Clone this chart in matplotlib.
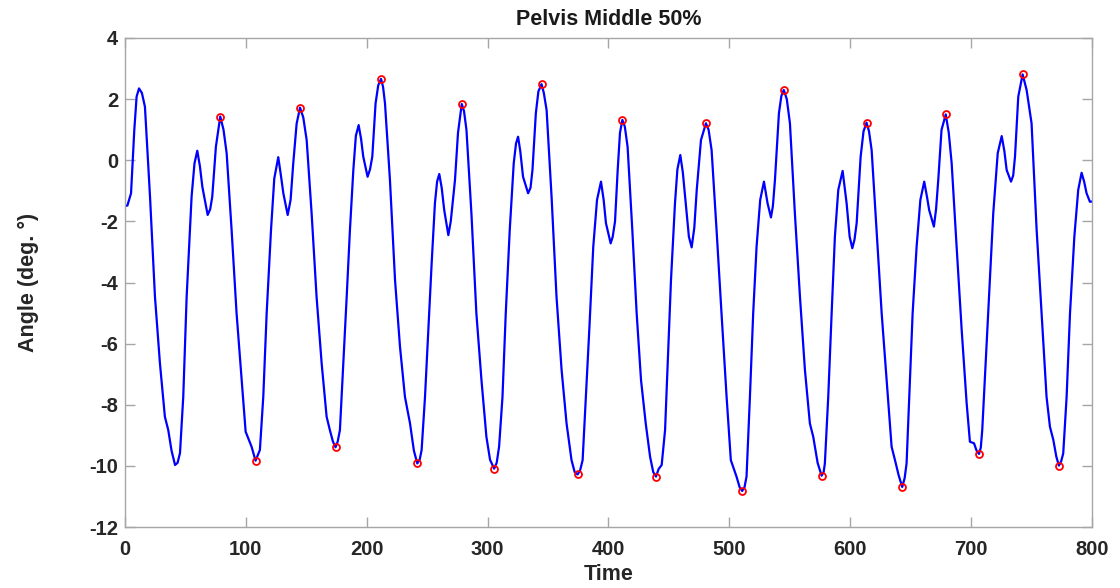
import matplotlib
matplotlib.use("Agg")
import matplotlib.pyplot as plt

plt.rcParams['font.family'] = ['Liberation Sans', 'DejaVu Sans']
plt.rcParams['axes.unicode_minus'] = False

# signal (time, angle)
time = [0, 2, 5, 7.7, 9.6, 11.6, 14, 16.5, 20.7, 24.8, 28.9, 33, 35.8, 38.5, 41.4, 43.5, 45.5, 48.2, 51, 55.1,
        57.5, 59.8, 62, 64, 68.4, 70.5, 72.2, 75.2, 78.8, 81.5, 84.1, 88.2, 92.3, 96.5, 99.8, 104.7, 108, 111.6,
        114.4, 117.2, 120.8, 123.5, 126.8, 129, 131, 134.6,
        137, 139.2, 142, 144.8, 147.5, 150.3, 154.4, 158.5, 162.7, 166.8, 169.5, 172, 174.2, 176, 177.8, 180.6,
        183.4, 186.1, 188.9, 191, 193.3, 195.3, 197.1, 200.7, 202.7, 204.6, 207.3, 209.5, 211.8, 213.5, 215.1,
        219.2, 223.4, 227.5, 231.6, 235.8, 239, 241.8, 243.8, 245.4, 248.2, 250.9, 253.7, 256.4, 258.2, 260,
        262, 264.1, 267.5, 269.5, 271.6,
        273, 275.5, 278.6, 280.5, 282.5, 286.6, 290.7, 294.9, 299, 302, 305.4, 307.5, 309.5, 312.3, 315, 318.3,
        321.6, 323.5, 325.2, 327, 329.3, 333.5, 335.5, 337.1, 339.9, 342, 344.6, 346.5, 348.8, 352.9, 357, 361.2,
        365.3, 369.4, 372, 374.4, 376.5, 378.6, 381.3, 384.1, 387.4, 390.5, 393.8, 396, 397.9, 401.8, 403.5,
        405.4, 407.6, 409.5, 411.5, 413.5, 415.8, 419.7, 423.3, 426.9, 430.8, 434.4, 437, 439.3, 441.5, 444,
        446.8, 449, 451.7, 455, 457, 459.4, 461.5, 463.9, 466.5, 468.8, 471, 473, 476.5, 480.6, 482.8, 485.3,
        489.4, 493.5, 497.7, 501.2, 505.9, 508.5, 510.6, 512.5, 514.2, 517, 519.7, 522.5, 525.5, 528.6, 531.6,
        534.4, 536, 537.7, 541, 543, 545,
        547.5, 550.1, 554.2, 558.4, 562.5, 566.6, 569.4, 573, 576.3, 578, 579, 581.8, 584.6, 587.3, 590.1, 593.7,
        597, 599.5, 601.7, 603.5, 605.3, 608.6, 611, 613.5, 615.5, 617.7, 621.8, 626, 630.1, 634.2, 637, 640,
        643, 645, 646.6, 648.8, 651.6, 654.9, 658, 661.2, 663.5, 665.3, 669.2, 671, 672.8, 675.5, 679,
        681.5, 683.9, 688, 692.2, 696.3, 699, 702.4, 704.5, 706.5, 708, 709.2, 712, 714.8, 718.3, 722, 725.3,
        727.5, 729.4, 733, 734.8, 736.3, 739, 742.6, 745.9, 750, 754.2, 758.3, 762.4, 765.2, 768, 770.5, 772.6,
        774.5, 776.2, 779, 781.8, 785.4, 788.6, 791.4, 793.5, 795.5, 798.3, 800]
angle = [-1.50, -1.48, -1.08, 0.99, 2.08, 2.35, 2.2, 1.75, -1.19, -4.47, -6.64, -8.39, -8.83, -9.5, -9.97, -9.9,
         -9.58, -7.74, -4.47, -1.19, -0.1, 0.31, -0.2, -0.87, -1.79, -1.6, -1.19, 0.44, 1.43, 1.0, 0.23, -2.28,
         -5.0, -7.19, -8.88, -9.37, -9.83, -9.48, -7.74, -5.01, -2.28, -0.6, 0.10, -0.5, -1.08, -1.79,
         -1.3, -0.10, 1.2, 1.72, 1.4, 0.66, -1.74, -4.47, -6.65, -8.39, -8.83, -9.2, -9.39, -9.2, -8.83, -6.65,
         -4.47, -2.28, -0.32, 0.8, 1.15, 0.7, 0.12, -0.54, -0.3, 0.12, 1.86, 2.45, 2.66, 2.4, 1.86,
         -0.65, -3.92, -6.10, -7.74, -8.61, -9.5, -9.92, -9.8, -9.48, -7.74, -5.56, -3.37, -1.41, -0.7, -0.45,
         -0.9, -1.63, -2.45, -2.0, -1.19,
         -0.65, 0.9, 1.84, 1.6, 0.99, -1.74, -5.01, -7.19, -9.05, -9.8, -10.09, -9.9, -9.37, -7.74, -5.01, -2.28,
         -0.10, 0.55, 0.77, 0.3, -0.54, -1.08, -0.9, -0.32, 1.54, 2.25, 2.49, 2.2, 1.64, -1.19, -4.47, -6.86,
         -8.61, -9.81, -10.2, -10.28, -10.15, -9.81, -7.74, -5.56, -2.83, -1.3, -0.70, -1.3, -2.06, -2.72, -2.5,
         -2.0, -0.32, 0.9, 1.32, 1.1, 0.44, -2.28, -5.01, -7.19, -8.61, -9.70, -10.2, -10.35, -10.1, -9.97,
         -8.83, -6.65, -3.92, -1.41, -0.3, 0.17, -0.4, -1.41, -2.5, -2.85, -2.2, -0.97, 0.66, 1.21, 1.0, 0.33,
         -2.28, -5.01, -7.74, -9.81, -10.35, -10.7, -10.82, -10.7, -10.35, -7.74, -5.01, -2.83, -1.3, -0.70, -1.41,
         -1.87, -1.5, -0.65, 1.54, 2.1, 2.30,
         2.0, 1.21, -1.74, -4.47, -6.86, -8.61, -9.05, -9.9, -10.32, -10.2, -9.92, -7.74, -5.01, -2.50, -0.97, -0.35,
         -1.41, -2.5, -2.88, -2.6, -2.06, 0.12, 0.95, 1.23, 0.95, 0.33, -2.28, -5.01, -7.19, -9.37, -9.81, -10.3,
         -10.69, -10.4, -9.92, -7.74, -5.01, -2.83, -1.3, -0.70, -1.2, -1.63, -2.17, -1.6, -0.65, 0.99, 1.50,
         0.9, -0.10, -2.83, -5.56, -7.95, -9.21, -9.26, -9.5, -9.61, -9.4, -8.83, -6.65, -4.47, -1.74, 0.23, 0.79,
         0.3, -0.32, -0.70, -0.5, 0.12, 2.08, 2.81, 2.30, 1.21, -2.28, -5.01, -7.74, -8.72, -9.15, -9.7, -9.99,
         -9.85, -9.59, -7.74, -5.01, -2.50, -0.97, -0.41, -0.7, -1.08, -1.36, -1.35]

# marked peaks and valleys
peak_t = [78.8, 144.8, 211.8, 278.6, 344.6, 411.5, 480.6, 545.0, 613.5, 679.0, 742.6]
peak_y = [1.43, 1.72, 2.66, 1.84, 2.49, 1.32, 1.21, 2.30, 1.23, 1.50, 2.81]
valley_t = [108.0, 174.2, 241.8, 305.4, 374.4, 439.3, 510.6, 576.3, 643.0, 706.5, 772.6]
valley_y = [-9.83, -9.39, -9.92, -10.09, -10.28, -10.35, -10.82, -10.32, -10.69, -9.61, -9.99]

x_ticks = [0, 100, 200, 300, 400, 500, 600, 700, 800]
y_ticks = [-12, -10, -8, -6, -4, -2, 0, 2, 4]

fig = plt.figure(figsize=(11.2, 5.88), dpi=100)
ax = fig.add_axes([0.1116, 0.1037, 0.8634, 0.8317])

ax.plot(time, angle, color='#0000ff', linewidth=1.6, solid_joinstyle='round')
ax.plot(peak_t, peak_y, 'o', mfc='none', mec='#ff0000', ms=5, mew=1.3)
ax.plot(valley_t, valley_y, 'o', mfc='none', mec='#ff0000', ms=5, mew=1.3)

ax.set_xlim(0, 800)
ax.set_ylim(-12, 4)
ax.set_xticks(x_ticks)
ax.set_yticks(y_ticks)

for s in ax.spines.values():
    s.set_color('#a6a6a6')
    s.set_linewidth(1.0)
ax.tick_params(direction='in', length=7, width=1.0, color='#a6a6a6',
               top=True, right=True, labelsize=14.5, labelcolor='#262626')
ax.tick_params(axis='x', pad=9)
ax.tick_params(axis='y', pad=5)
for lbl in ax.get_xticklabels() + ax.get_yticklabels():
    lbl.set_fontweight('bold')

ax.set_title('Pelvis Middle 50%', fontsize=15.5, fontweight='bold', color='#1a1a1a', pad=9)
ax.set_xlabel('Time', fontsize=15.5, fontweight='bold', color='#262626', labelpad=4)
ax.set_ylabel('Angle (deg. °)', fontsize=15.5, fontweight='bold', color='#262626', labelpad=36)

fig.savefig('out.png', dpi=100)
